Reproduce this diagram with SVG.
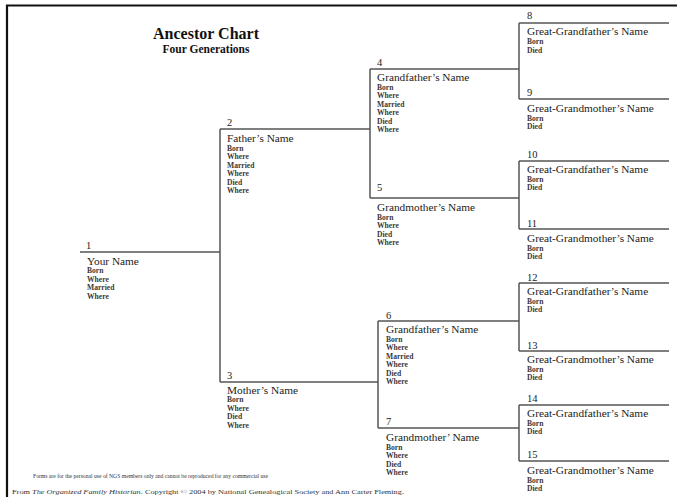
<svg xmlns="http://www.w3.org/2000/svg" width="677" height="497" viewBox="0 0 677 497">
<style>
text{font-family:"Liberation Serif","Times New Roman",serif;fill:#222}
.num{font-size:10.5px}
.nm{font-size:11.3px}
.d{font-size:7.6px;font-weight:bold;fill:#3a3a3a}
.ln{stroke:#555;stroke-width:1.5;fill:none}
.title{font-size:16px;font-weight:bold;text-anchor:middle;fill:#111}
.sub{font-size:11.5px;font-weight:bold;text-anchor:middle;fill:#111}
.foot{font-size:6.6px;fill:#333}
</style>
<rect width="677" height="497" fill="#fff"/>
<path d="M7,497 V5.5 H677" stroke="#111" stroke-width="2.2" fill="none"/>
<text class="title" x="206" y="39">Ancestor Chart</text>
<text class="sub" x="206" y="52.5">Four Generations</text>
<g id="connectors">
<path class="ln" d="M80,252 H220 M220,129 V382 M220,129 H370 M220,382 H378"/>
<path class="ln" d="M370,69 V198 M370,69 H519 M370,198 H519"/>
<path class="ln" d="M378,321 V428 M378,321 H519 M378,428 H519"/>
<path class="ln" d="M519,23 V99 M519,23 H669 M519,99 H669"/>
<path class="ln" d="M519,161 V229 M519,161 H669 M519,229 H669"/>
<path class="ln" d="M519,283 V351 M519,283 H669 M519,351 H669"/>
<path class="ln" d="M519,405 V461 M519,405 H669 M519,461 H669"/>
</g>
<g id="p1"><text class="num" x="86" y="249">1</text><text class="nm" x="87" y="265">Your Name</text>
<text class="d" x="87" y="273">Born</text><text class="d" x="87" y="281.7">Where</text><text class="d" x="87" y="290.4">Married</text><text class="d" x="87" y="299">Where</text></g>
<g id="p2"><text class="num" x="227" y="126">2</text><text class="nm" x="227" y="142">Father’s Name</text>
<text class="d" x="227" y="150.5">Born</text><text class="d" x="227" y="159">Where</text><text class="d" x="227" y="167.6">Married</text><text class="d" x="227" y="176.2">Where</text><text class="d" x="227" y="184.6">Died</text><text class="d" x="227" y="193.2">Where</text></g>
<g id="p3"><text class="num" x="227" y="379">3</text><text class="nm" x="227" y="393.5">Mother’s Name</text>
<text class="d" x="227" y="402">Born</text><text class="d" x="227" y="410.6">Where</text><text class="d" x="227" y="419.2">Died</text><text class="d" x="227" y="428">Where</text></g>
<g id="p4"><text class="num" x="377" y="66">4</text><text class="nm" x="377" y="81">Grandfather’s Name</text>
<text class="d" x="377" y="89.5">Born</text><text class="d" x="377" y="98">Where</text><text class="d" x="377" y="106.6">Married</text><text class="d" x="377" y="115.2">Where</text><text class="d" x="377" y="123.6">Died</text><text class="d" x="377" y="132.2">Where</text></g>
<g id="p5"><text class="num" x="377" y="191">5</text><text class="nm" x="377" y="211">Grandmother’s Name</text>
<text class="d" x="377" y="219.5">Born</text><text class="d" x="377" y="228">Where</text><text class="d" x="377" y="236.6">Died</text><text class="d" x="377" y="245.2">Where</text></g>
<g id="p6"><text class="num" x="386" y="319">6</text><text class="nm" x="386" y="333">Grandfather’s Name</text>
<text class="d" x="386" y="341.5">Born</text><text class="d" x="386" y="350">Where</text><text class="d" x="386" y="358.6">Married</text><text class="d" x="386" y="367.2">Where</text><text class="d" x="386" y="375.6">Died</text><text class="d" x="386" y="384.2">Where</text></g>
<g id="p7"><text class="num" x="386" y="425">7</text><text class="nm" x="386" y="441">Grandmother’ Name</text>
<text class="d" x="386" y="449.5">Born</text><text class="d" x="386" y="458">Where</text><text class="d" x="386" y="466.6">Died</text><text class="d" x="386" y="475.2">Where</text></g>
<g id="p8"><text class="num" x="527" y="19">8</text><text class="nm" x="527" y="35">Great-Grandfather’s Name</text>
<text class="d" x="527" y="44">Born</text><text class="d" x="527" y="52.6">Died</text></g>
<g id="p9"><text class="num" x="527" y="96">9</text><text class="nm" x="527" y="112">Great-Grandmother’s Name</text>
<text class="d" x="527" y="120.5">Born</text><text class="d" x="527" y="129">Died</text></g>
<g id="p10"><text class="num" x="527" y="158">10</text><text class="nm" x="527" y="173">Great-Grandfather’s Name</text>
<text class="d" x="527" y="181.5">Born</text><text class="d" x="527" y="190">Died</text></g>
<g id="p11"><text class="num" x="527" y="227">11</text><text class="nm" x="527" y="242">Great-Grandmother’s Name</text>
<text class="d" x="527" y="250.5">Born</text><text class="d" x="527" y="259">Died</text></g>
<g id="p12"><text class="num" x="527" y="281">12</text><text class="nm" x="527" y="295">Great-Grandfather’s Name</text>
<text class="d" x="527" y="303.5">Born</text><text class="d" x="527" y="312">Died</text></g>
<g id="p13"><text class="num" x="527" y="349">13</text><text class="nm" x="527" y="363">Great-Grandmother’s Name</text>
<text class="d" x="527" y="371.5">Born</text><text class="d" x="527" y="380">Died</text></g>
<g id="p14"><text class="num" x="527" y="402">14</text><text class="nm" x="527" y="417">Great-Grandfather’s Name</text>
<text class="d" x="527" y="425.5">Born</text><text class="d" x="527" y="434">Died</text></g>
<g id="p15"><text class="num" x="527" y="458">15</text><text class="nm" x="527" y="474">Great-Grandmother’s Name</text>
<text class="d" x="527" y="482.5">Born</text><text class="d" x="527" y="491">Died</text></g>
<text class="foot" x="33" y="478" textLength="235" lengthAdjust="spacingAndGlyphs">Forms are for the personal use of NGS members only and cannot be reproduced for any commercial use</text>
<text class="foot" x="12" y="494" textLength="392" lengthAdjust="spacingAndGlyphs">From <tspan font-style="italic">The Organized Family Historian</tspan>. Copyright © 2004 by National Genealogical Society and Ann Carter Fleming.</text>
</svg>
